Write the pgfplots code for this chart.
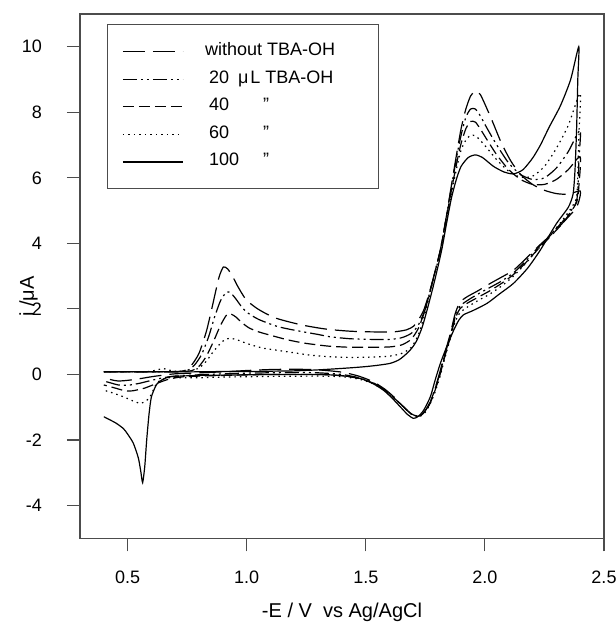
\documentclass[border=0pt]{standalone}
\usepackage{fontspec}
\setmainfont{Liberation Sans}
\usepackage{pgfplots}
\pgfplotsset{compat=1.18}

\begin{document}
\begin{tikzpicture}
\useasboundingbox (-80pt,-83.7pt) rectangle (536pt,538.3pt);
\begin{axis}[
  at={(0pt,0pt)}, anchor=south west,
  scale only axis, width=524pt, height=524.3pt,
  xmin=0.3, xmax=2.5, ymin=-5, ymax=11,
  xtick={0.5,1,1.5,2,2.5}, xticklabels={0.5,1.0,1.5,2.0,2.5},
  ytick={-4,-2,0,2,4,6,8,10}, yticklabels={-4,-2,0,2,4,6,8,10},
  tick pos=left, tick align=outside, major tick length=13pt,
  axis line style={black!70, line width=1.1pt},
  tick style={black!70, line width=1.1pt},
  ticklabel style={font=\fontsize{18}{21}\selectfont, inner sep=0pt},
  xticklabel style={anchor=north, yshift=-19.7pt},
  yticklabel style={anchor=east, xshift=-25pt},
  legend style={at={(rel axis cs:0.052,0.981)}, anchor=north west,
    draw=black!70, line width=1.1pt, fill=white,
    inner xsep=0pt, inner ysep=19pt, row sep=11.6pt, column sep=0pt,
    font=\fontsize{18}{21}\selectfont,
    nodes={inner sep=0pt, text height=12pt, text depth=4pt}},
  legend cell align=left,
  legend image code/.code={\path (0pt,0pt); \draw[#1] (14.4pt,0pt) -- (74.4pt,0pt);},
]
% without TBA-OH
\addplot[black, line width=1.2pt, dash pattern=on 22pt off 8pt, smooth, tension=0.4] coordinates {
(0.40,0.08)(0.50,0.08)(0.60,0.08)(0.70,0.09)(0.74,0.12)(0.77,0.3)(0.80,0.65)(0.83,1.3)(0.85,1.9)(0.87,2.55)(0.885,3.0)(0.902,3.28)(0.92,3.22)(0.94,3.0)(0.96,2.72)(0.98,2.47)(1.00,2.26)(1.04,2.03)(1.08,1.86)(1.126,1.71)(1.18,1.6)(1.238,1.50)(1.30,1.42)(1.35,1.37)(1.434,1.32)(1.52,1.30)(1.616,1.30)(1.67,1.36)(1.70,1.47)(1.72,1.65)(1.743,1.96)(1.765,2.45)(1.785,2.98)(1.813,3.8)(1.84,4.9)(1.86,5.8)(1.883,6.8)(1.90,7.5)(1.92,8.1)(1.94,8.5)(1.96,8.65)(1.98,8.55)(2.00,8.25)(2.03,7.75)(2.07,7.05)(2.11,6.5)(2.15,6.1)(2.20,5.8)(2.25,5.62)(2.30,5.52)(2.35,5.5)(2.40,5.6)
(2.395,5.3)(2.38,5.05)(2.33,4.65)(2.28,4.28)(2.22,3.88)(2.17,3.52)(2.12,3.18)(2.07,2.97)(2.023,2.78)(1.97,2.55)(1.925,2.37)(1.895,2.2)(1.875,1.85)(1.855,1.25)(1.83,0.6)(1.81,0.05)(1.79,-0.45)(1.77,-0.85)(1.75,-1.1)(1.73,-1.24)(1.715,-1.27)(1.69,-1.2)(1.66,-1.0)(1.62,-0.7)(1.58,-0.45)(1.53,-0.22)(1.47,-0.05)(1.40,0.07)(1.30,0.14)(1.20,0.16)(1.10,0.15)(1.00,0.12)(0.90,0.08)(0.80,0.05)(0.70,0.02)(0.65,-0.02)(0.60,-0.07)(0.55,-0.13)(0.50,-0.18)(0.46,-0.2)(0.43,-0.16)(0.40,-0.1)
};
\addlegendentry{\hspace*{21.8pt}\makebox[173.2pt][l]{without TBA-OH}}
% 20 uL
\addplot[black, line width=1.2pt, dash pattern=on 14pt off 4pt on 2pt off 4pt on 2pt off 4pt, smooth, tension=0.4] coordinates {
(0.40,0.08)(0.60,0.08)(0.70,0.08)(0.75,0.12)(0.78,0.28)(0.81,0.6)(0.84,1.15)(0.865,1.75)(0.89,2.25)(0.916,2.52)(0.935,2.47)(0.955,2.3)(0.975,2.1)(1.00,1.9)(1.05,1.68)(1.126,1.47)(1.18,1.38)(1.238,1.30)(1.30,1.22)(1.35,1.15)(1.434,1.09)(1.52,1.07)(1.60,1.07)(1.65,1.12)(1.69,1.25)(1.72,1.5)(1.75,2.0)(1.785,2.98)(1.813,3.8)(1.84,4.9)(1.86,5.75)(1.883,6.7)(1.90,7.3)(1.92,7.85)(1.94,8.1)(1.96,8.1)(1.98,7.9)(2.01,7.5)(2.05,7.0)(2.10,6.45)(2.15,6.1)(2.20,5.95)(2.25,6.0)(2.30,6.3)(2.35,6.8)(2.40,7.46)
(2.395,6.6)(2.39,5.6)(2.38,5.2)(2.33,4.7)(2.28,4.3)(2.22,3.85)(2.17,3.45)(2.12,3.1)(2.07,2.85)(2.02,2.65)(1.97,2.45)(1.925,2.25)(1.895,2.08)(1.875,1.75)(1.855,1.2)(1.83,0.55)(1.81,0.0)(1.79,-0.45)(1.77,-0.85)(1.75,-1.1)(1.73,-1.25)(1.715,-1.28)(1.69,-1.2)(1.66,-1.0)(1.62,-0.72)(1.58,-0.47)(1.53,-0.25)(1.47,-0.1)(1.40,0.0)(1.30,0.05)(1.20,0.06)(1.00,0.04)(0.90,0.02)(0.80,-0.01)(0.70,-0.05)(0.65,-0.1)(0.60,-0.18)(0.55,-0.27)(0.50,-0.33)(0.46,-0.32)(0.43,-0.26)(0.40,-0.2)
};
\addlegendentry{\hspace*{21.8pt}\makebox[173.2pt][l]{\hspace*{4pt}20\hspace{0.5em}μ\hspace{0.1em}L TBA-OH}}
% 40 uL
\addplot[black, line width=1.2pt, dash pattern=on 11pt off 5pt, smooth, tension=0.4] coordinates {
(0.40,0.08)(0.60,0.08)(0.72,0.08)(0.77,0.12)(0.80,0.25)(0.83,0.55)(0.86,1.0)(0.89,1.5)(0.916,1.82)(0.935,1.84)(0.955,1.75)(0.98,1.58)(1.01,1.42)(1.05,1.3)(1.098,1.20)(1.17,1.06)(1.238,0.96)(1.30,0.9)(1.35,0.86)(1.434,0.83)(1.52,0.83)(1.60,0.84)(1.65,0.9)(1.69,1.07)(1.72,1.4)(1.75,2.0)(1.785,2.98)(1.813,3.8)(1.84,4.85)(1.86,5.65)(1.883,6.5)(1.90,7.05)(1.92,7.5)(1.94,7.72)(1.96,7.7)(1.98,7.5)(2.01,7.15)(2.05,6.7)(2.10,6.25)(2.15,5.95)(2.20,5.8)(2.25,5.8)(2.30,5.95)(2.35,6.25)(2.40,6.64)
(2.395,5.8)(2.385,5.25)(2.33,4.65)(2.28,4.25)(2.22,3.8)(2.17,3.4)(2.12,3.05)(2.07,2.78)(2.02,2.55)(1.97,2.35)(1.925,2.17)(1.895,2.0)(1.875,1.7)(1.855,1.15)(1.83,0.5)(1.81,-0.05)(1.79,-0.5)(1.77,-0.88)(1.75,-1.12)(1.73,-1.26)(1.715,-1.28)(1.69,-1.2)(1.66,-1.0)(1.62,-0.73)(1.58,-0.48)(1.53,-0.26)(1.47,-0.12)(1.40,-0.04)(1.30,0.0)(1.10,0.0)(0.90,-0.03)(0.80,-0.05)(0.72,-0.08)(0.67,-0.15)(0.62,-0.28)(0.57,-0.42)(0.52,-0.5)(0.49,-0.5)(0.45,-0.42)(0.40,-0.32)
};
\addlegendentry{\hspace*{21.8pt}\makebox[173.2pt][l]{\hspace*{4pt}\makebox[54pt][l]{40}"}}
% 60 uL
\addplot[black, line width=1.2pt, dash pattern=on 1.5pt off 4pt, smooth, tension=0.4] coordinates {
(0.40,0.08)(0.55,0.08)(0.60,0.1)(0.63,0.15)(0.65,0.18)(0.67,0.14)(0.70,0.1)(0.76,0.1)(0.80,0.2)(0.83,0.4)(0.86,0.7)(0.89,0.95)(0.91,1.07)(0.93,1.10)(0.955,1.07)(0.98,1.0)(1.02,0.9)(1.07,0.8)(1.126,0.74)(1.20,0.66)(1.266,0.59)(1.35,0.54)(1.434,0.52)(1.52,0.53)(1.60,0.56)(1.65,0.64)(1.69,0.82)(1.72,1.2)(1.75,1.9)(1.785,2.95)(1.813,3.75)(1.84,4.8)(1.86,5.55)(1.883,6.35)(1.90,6.85)(1.92,7.15)(1.94,7.3)(1.96,7.28)(1.98,7.15)(2.01,6.9)(2.05,6.55)(2.10,6.2)(2.15,6.02)(2.20,6.05)(2.25,6.35)(2.30,6.9)(2.35,7.6)(2.40,8.58)
(2.395,7.4)(2.39,6.2)(2.383,5.35)(2.33,4.75)(2.28,4.3)(2.22,3.8)(2.17,3.38)(2.12,3.0)(2.07,2.7)(2.02,2.45)(1.97,2.25)(1.925,2.05)(1.895,1.88)(1.875,1.6)(1.855,1.1)(1.83,0.45)(1.81,-0.1)(1.79,-0.55)(1.77,-0.9)(1.75,-1.15)(1.73,-1.27)(1.715,-1.28)(1.69,-1.2)(1.66,-1.0)(1.62,-0.74)(1.58,-0.5)(1.53,-0.28)(1.47,-0.14)(1.40,-0.07)(1.30,-0.05)(1.10,-0.06)(0.90,-0.08)(0.80,-0.1)(0.72,-0.1)(0.67,-0.1)(0.64,-0.18)(0.622,-0.27)(0.594,-0.68)(0.575,-0.82)(0.552,-0.88)(0.52,-0.8)(0.482,-0.68)(0.44,-0.57)(0.40,-0.48)
};
\addlegendentry{\hspace*{21.8pt}\makebox[173.2pt][l]{\hspace*{4pt}\makebox[54pt][l]{60}"}}
% 100 uL
\addplot[black, line width=1.2pt, solid, smooth, tension=0.4] coordinates {
(0.40,0.08)(0.50,0.08)(0.60,0.08)(0.70,0.08)(0.80,0.08)(0.90,0.09)(1.00,0.09)(1.10,0.10)(1.20,0.11)(1.30,0.14)(1.39,0.18)(1.45,0.21)(1.50,0.24)(1.55,0.28)(1.603,0.34)(1.64,0.45)(1.672,0.64)(1.695,0.82)(1.715,1.05)(1.737,1.45)(1.757,1.96)(1.78,2.6)(1.80,3.2)(1.82,3.85)(1.84,4.65)(1.86,5.4)(1.88,5.95)(1.90,6.35)(1.93,6.62)(1.96,6.70)(1.99,6.62)(2.036,6.35)(2.08,6.18)(2.12,6.12)(2.16,6.25)(2.20,6.6)(2.233,7.0)(2.27,7.55)(2.317,8.2)(2.36,9.0)(2.394,10.0)
(2.39,9.0)(2.385,7.5)(2.378,6.2)(2.37,5.5)(2.35,5.1)(2.30,4.6)(2.233,3.8)(2.18,3.25)(2.12,2.78)(2.06,2.45)(2.009,2.17)(1.95,1.95)(1.91,1.82)(1.89,1.65)(1.869,1.35)(1.84,0.85)(1.813,0.34)(1.79,-0.2)(1.771,-0.68)(1.743,-1.09)(1.72,-1.28)(1.70,-1.34)(1.675,-1.22)(1.645,-0.99)(1.61,-0.72)(1.574,-0.48)(1.53,-0.28)(1.476,-0.12)(1.392,-0.03)(1.30,0.0)(1.20,0.0)(1.10,0.0)(1.00,-0.01)(0.90,-0.02)(0.80,-0.03)(0.72,-0.05)(0.678,-0.07)(0.65,-0.14)(0.622,-0.3)(0.60,-0.68)(0.59,-1.2)(0.58,-2.0)(0.572,-2.8)(0.563,-3.3)(0.555,-2.95)(0.545,-2.55)(0.524,-2.1)(0.50,-1.82)(0.482,-1.65)(0.45,-1.48)(0.40,-1.29)
};
\addlegendentry{\hspace*{21.8pt}\makebox[173.2pt][l]{\hspace*{4pt}\makebox[54pt][l]{100}"}}
\end{axis}
% axis titles, placed relative to the axis box (south west corner at the origin)
\node[anchor=base, inner sep=0pt, font=\fontsize{20}{24}\selectfont] at (262pt,-79.5pt) {-E / V\ \ vs Ag/AgCl};
\node[anchor=east, inner sep=0pt, font=\fontsize{20}{24}\selectfont] at (-42pt,241.7pt) {\rotatebox{90}{i /μA}};
\end{tikzpicture}
\end{document}
